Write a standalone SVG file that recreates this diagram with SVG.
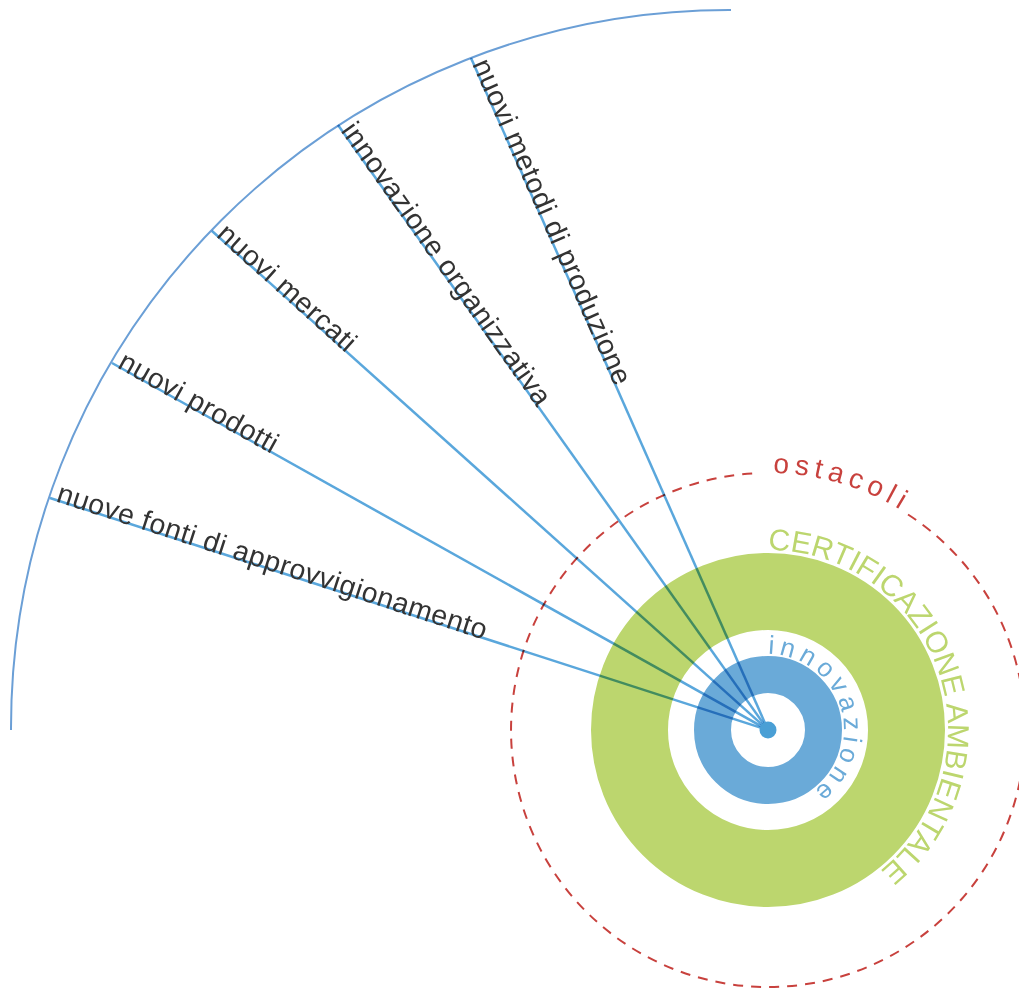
<svg xmlns="http://www.w3.org/2000/svg" width="1019" height="993" viewBox="0 0 1019 993">
<style>
.ray{stroke:#5aa7dc;stroke-width:2.5;fill:none;mix-blend-mode:multiply}
.lbl{font-family:"Liberation Sans",Arial,sans-serif;font-size:28.5px;fill:#333333;letter-spacing:0.5px}
.arc{stroke:#6b9fd6;stroke-width:2;fill:none}
</style>
<defs>
<path id="pCert" d="M 768 550 A 180 180 0 0 1 768 910 A 180 180 0 0 1 768 550"/>
<path id="pInno" d="M 768 654 A 76 76 0 0 1 768 806 A 76 76 0 0 1 768 654"/>
<path id="pOst" d="M 768 473 A 257 257 0 0 1 768 987"/>
</defs>
<rect width="1019" height="993" fill="#ffffff"/>
<g id="ostacoli">
<path d="M 908 514.5 A 257 257 0 1 1 759 473.2" fill="none" stroke="#c8413d" stroke-width="2" stroke-dasharray="10 8"/>
<text font-family="Liberation Sans,Arial,sans-serif" font-size="28" fill="#c8413d" letter-spacing="5.5"><textPath href="#pOst" startOffset="5">ostacoli</textPath></text>
</g>
<g id="certificazione">
<circle cx="768" cy="730" r="138.5" fill="none" stroke="#bcd66e" stroke-width="77"/>
<text font-family="Liberation Sans,Arial,sans-serif" font-size="30" fill="#bcd66e"><textPath href="#pCert" startOffset="0">CERTIFICAZIONE AMBIENTALE</textPath></text>
</g>
<g id="innovazione">
<circle cx="768" cy="730" r="55.5" fill="none" stroke="#6aaad8" stroke-width="37"/>
<text font-family="Liberation Sans,Arial,sans-serif" font-size="26" fill="#6aaad8" letter-spacing="5"><textPath href="#pInno" startOffset="0">innovazione</textPath></text>
</g>
<g id="arco">
<path class="arc" d="M 11 730 A 718 718 0 0 1 731 10"/>
</g>
<g id="connectors">
<line class="ray" x1="50" y1="498" x2="768" y2="730"/>
<line class="ray" x1="112" y1="363" x2="768" y2="730"/>
<line class="ray" x1="212" y1="231" x2="768" y2="730"/>
<line class="ray" x1="338" y1="125" x2="768" y2="730"/>
<line class="ray" x1="471" y1="58" x2="768" y2="730"/>
</g>
<g id="centro">
<circle cx="768" cy="730" r="8.5" fill="#4a9fd5"/>
</g>
<g id="label-fonti" transform="translate(50 498) rotate(17.90)"><text class="lbl" x="6" y="1.5">nuove fonti di approvvigionamento</text></g>
<g id="label-prodotti" transform="translate(112 363) rotate(29.22)"><text class="lbl" x="6" y="1.5">nuovi prodotti</text></g>
<g id="label-mercati" transform="translate(212 231) rotate(41.91)"><text class="lbl" x="6" y="1.5">nuovi mercati</text></g>
<g id="label-organizzativa" transform="translate(338 125) rotate(54.60)"><text class="lbl" x="6" y="1.5">innovazione organizzativa</text></g>
<g id="label-metodi" transform="translate(471 58) rotate(66.15)"><text class="lbl" x="6" y="1.5">nuovi metodi di produzione</text></g>
</svg>
